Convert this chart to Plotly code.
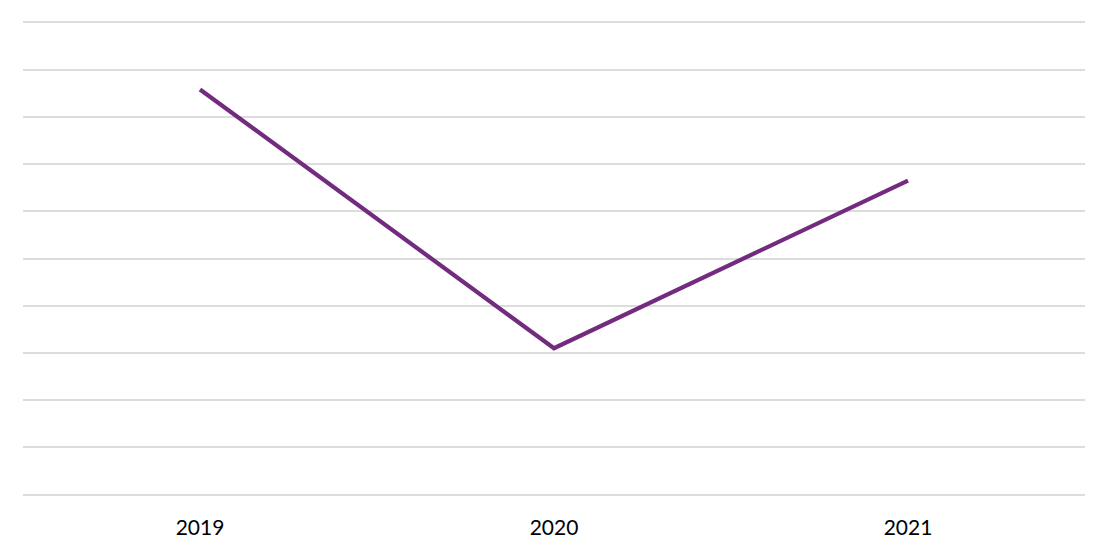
import plotly.graph_objects as go

years = ["2019", "2020", "2021"]
values = [8.58, 3.1, 6.65]
y_ticks = list(range(0, 11))

fig = go.Figure()
fig.add_trace(go.Scatter(
    x=years, y=values, mode="lines",
    line=dict(color="#722B7E", width=4.2),
    hoverinfo="x+y",
))

fig.update_layout(
    width=1110, height=556,
    margin=dict(l=15, r=33, t=13, b=68),
    paper_bgcolor="white", plot_bgcolor="white",
    showlegend=False,
    font=dict(family="Lato, Open Sans, sans-serif", size=21, color="#000000"),
)
fig.update_xaxes(
    type="category", range=[-0.5, 2.5],
    showgrid=False, showline=False, zeroline=False,
    ticks="", ticklabelstandoff=17,
)
fig.update_yaxes(
    range=[-0.03, 10.03], tickvals=y_ticks, showticklabels=False,
    showgrid=True, gridcolor="#DCDCDC", gridwidth=1.5,
    zeroline=False, showline=False,
)
fig.write_html("out.html")
